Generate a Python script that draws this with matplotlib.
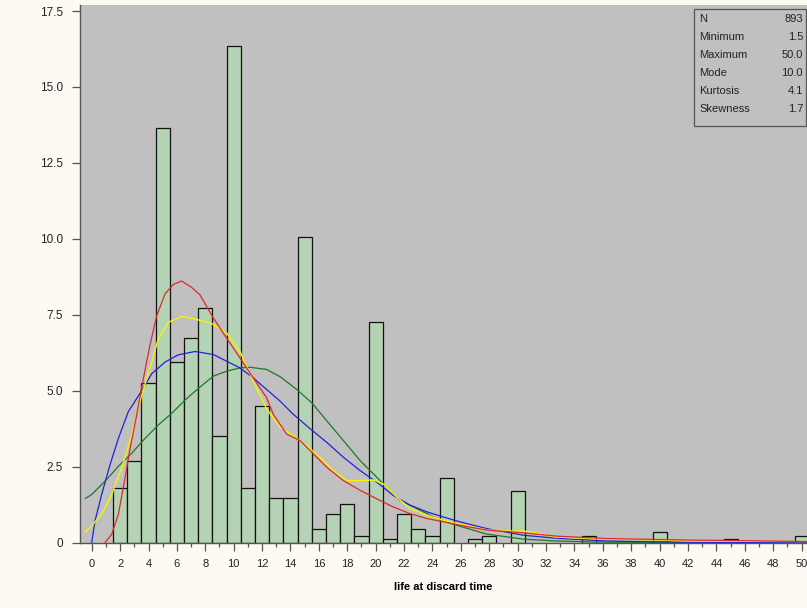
import matplotlib
matplotlib.use("Agg")
import matplotlib.pyplot as plt
from matplotlib.patches import Rectangle

plt.rcParams['font.family'] = ['Liberation Sans', 'DejaVu Sans']

# histogram bins (centre of 1-unit bins) and percent of observations
bin_centers = [2, 3, 4, 5, 6, 7, 8, 9, 10, 11, 12, 13, 14, 15, 16, 17, 18, 19, 20,
               21, 22, 23, 24, 25, 27, 28, 30, 35, 40, 45, 50]
bin_pct = [1.79, 2.69, 5.26, 13.65, 5.93, 6.72, 7.71, 3.50, 16.35, 1.79, 4.49, 1.46,
           1.46, 10.05, 0.46, 0.93, 1.27, 0.23, 7.26, 0.12, 0.93, 0.46, 0.23, 2.12,
           0.11, 0.21, 1.70, 0.22, 0.34, 0.11, 0.22]

# fitted / smoothed density curves
red_x = [0.94, 1.41, 1.88, 2.35, 2.7, 3.17, 3.64, 4.1, 4.58, 5.16, 5.75, 6.34, 7.04,
         7.63, 8.57, 9.5, 10.44, 11.38, 12.32, 12.79, 13.73, 14.67, 15.61, 16.55,
         17.72, 18.9, 20.07, 21.24, 22.42, 23.6, 24.77, 25.94, 27.8, 30.4, 32.7,
         36.3, 38.6, 42, 46, 50.4]
red_y = [0, 0.27, 0.93, 2.13, 3.1, 4.2, 5.4, 6.49, 7.47, 8.18, 8.5, 8.61, 8.4,
         8.15, 7.39, 6.73, 6.08, 5.42, 4.77, 4.22, 3.57, 3.36, 2.92, 2.48,
         2.04, 1.72, 1.44, 1.17, 0.95, 0.79, 0.68, 0.57, 0.41, 0.32, 0.21,
         0.13, 0.11, 0.08, 0.06, 0.03]

yellow_x = [-0.47, 0, 0.7, 1.41, 2.11, 2.82, 3.52, 4.23, 4.69, 5.4, 6.34, 7.28, 8.5,
            9.5, 10.44, 11.38, 12.32, 13.26, 14.2, 15.14, 16.08, 17.02, 17.96, 18.9,
            19.84, 20.55, 21.48, 22.42, 23.6, 24.77, 25.94, 27.8, 29.5, 30.4, 31.5,
            32.7, 36.3, 38.6, 42, 46, 50.4]
yellow_y = [0.33, 0.55, 0.93, 1.58, 2.45, 3.54, 4.85, 5.94, 6.71, 7.25, 7.44, 7.36, 7.2,
            6.9, 6.3, 5.31, 4.4, 3.8, 3.52, 3.19, 2.8, 2.37, 2.04, 2.04,
            2.06, 1.93, 1.5, 1.12, 0.9, 0.73, 0.6, 0.42, 0.38, 0.38, 0.3,
            0.18, 0.11, 0.1, 0.05, 0.04, 0.03]

blue_x = [0, 0.23, 0.7, 1.29, 1.88, 2.58, 3.4, 4.23, 5.16, 6.1, 7.28, 8.57, 9.5,
          10.44, 11.38, 12.32, 13.26, 14.2, 15.4, 16.55, 17.72, 18.9, 20.07, 21.24,
          22.42, 23.6, 24.77, 25.94, 27.8, 30.4, 32.7, 36.3, 38.6, 42, 50.4]
blue_y = [0, 0.71, 1.58, 2.56, 3.43, 4.31, 4.91, 5.56, 5.94, 6.18, 6.29, 6.19, 5.97,
          5.75, 5.42, 5.04, 4.66, 4.22, 3.74, 3.3, 2.81, 2.37, 1.99, 1.55,
          1.23, 1.01, 0.84, 0.68, 0.46, 0.24, 0.14, 0.05, 0.03, 0.01, 0]

green_x = [-0.45, 0, 0.94, 1.88, 2.82, 3.76, 4.69, 5.63, 6.57, 7.5, 8.57, 9.5, 10.44,
           11.14, 12.32, 13.3, 14.44, 15.5, 16.55, 17.72, 18.9, 19.84, 20.78, 21.71,
           22.89, 24.07, 25.47, 27.8, 30.4, 32.7, 36.3, 50.4]
green_y = [1.45, 1.58, 2.02, 2.51, 2.94, 3.43, 3.87, 4.25, 4.69, 5.07, 5.48, 5.64, 5.75,
           5.77, 5.7, 5.45, 5.04, 4.6, 4.01, 3.36, 2.7, 2.26, 1.82, 1.39,
           1.12, 0.84, 0.6, 0.28, 0.11, 0.05, 0.01, 0]

x_ticks = list(range(0, 51, 2))
y_ticks = [0, 2.5, 5.0, 7.5, 10.0, 12.5, 15.0, 17.5]
y_tick_labels = ['0', '2.5', '5.0', '7.5', '10.0', '12.5', '15.0', '17.5']

stat_names = ['N', 'Minimum', 'Maximum', 'Mode', 'Kurtosis', 'Skewness']
stat_values = ['893', '1.5', '50.0', '10.0', '4.1', '1.7']

W, H = 807, 608
fig = plt.figure(figsize=(W / 100, H / 100), dpi=100, facecolor='#fdfaf4')
ax = fig.add_axes([79.5 / W, 1 - 542.5 / H, 1 - 79.5 / W, (542.5 - 5) / H])
ax.set_facecolor('#c0c0c0')

ax.bar(bin_centers, bin_pct, width=1.0, color='#b4d3b4', edgecolor='#111111',
       linewidth=0.9, zorder=2)

ax.plot(green_x, green_y, color='#1f7a1f', lw=0.9, zorder=3)
ax.plot(blue_x, blue_y, color='#2222dd', lw=0.9, zorder=3)
ax.plot(yellow_x, yellow_y, color='#f5f500', lw=1.0, zorder=3)
ax.plot(red_x, red_y, color='#e02828', lw=0.9, zorder=3)

ax.set_xlim(-0.86, 50.38)
ax.set_ylim(0, 17.7)

ax.set_xticks(x_ticks)
ax.set_xticks(range(0, 51), minor=True)
ax.set_yticks(y_ticks)
ax.set_yticklabels(y_tick_labels)

for side in ['top', 'right']:
    ax.spines[side].set_visible(False)
for side in ['left', 'bottom']:
    ax.spines[side].set_color('#555555')
    ax.spines[side].set_linewidth(1.0)

ax.tick_params(axis='both', which='major', length=6, width=0.9, color='#555555',
               labelcolor='#222222', pad=6)
ax.tick_params(axis='x', which='major', labelsize=8)
ax.tick_params(axis='y', which='major', labelsize=8.5)
ax.tick_params(axis='x', which='minor', length=3, width=0.9, color='#555555')

ax.set_xlabel('life at discard time', fontsize=8, fontweight='bold', labelpad=9)

# statistics box in the upper right corner
box_l, box_t, box_r, box_b = 694, 9, 806, 126
fig.patches.append(Rectangle((box_l / W, 1 - box_b / H), (box_r - box_l) / W,
                             (box_b - box_t) / H, transform=fig.transFigure,
                             facecolor='#c0c0c0', edgecolor='#555555', lw=0.9))
for i, (name, val) in enumerate(zip(stat_names, stat_values)):
    yy = 1 - (19 + i * 18) / H
    fig.text(699 / W, yy, name, fontsize=8, va='center', ha='left', color='#222222')
    fig.text(803 / W, yy, val, fontsize=8, va='center', ha='right', color='#222222')

fig.savefig('out.png', dpi=100, facecolor=fig.get_facecolor())
